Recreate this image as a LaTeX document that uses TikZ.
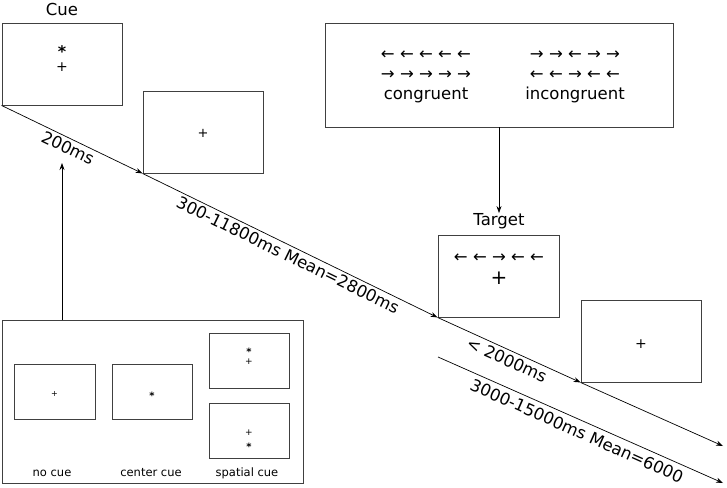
\documentclass[tikz,border=0pt]{standalone}
\usepackage{fontspec}
\setmainfont{DejaVu Sans}
\usetikzlibrary{arrows.meta}

\tikzset{
  screen/.style={draw=black!75, line width=0.9pt, minimum width=120pt, minimum height=82pt, inner sep=0pt},
  minis/.style={draw=black!75, line width=0.9pt, minimum width=80pt, minimum height=55pt, inner sep=0pt},
  timeline/.style={line width=0.7pt, -{Stealth[length=7pt,width=5pt]}},
  lbl/.style={font=\fontsize{16.5}{19}\selectfont, inner sep=0pt},
  tiny/.style={font=\fontsize{11.5}{13}\selectfont, inner sep=0pt},
  fix/.style={font=\fontsize{#1}{#1}\selectfont, inner sep=0pt},
  star/.style={font=\fontsize{#1}{#1}\selectfont\bfseries, inner sep=0pt, yshift=-0.2*#1pt},
}

\begin{document}
\begin{tikzpicture}[x=1pt, y=-1pt]
\useasboundingbox (0,0) rectangle (727,487);

% screens on the time line
\node[screen] (cue) at (62,64) {};
\node[lbl] (cuelbl) at (62,9) {Cue};
\node[star=16] (cuestar) at (62,48) {*};
\node[fix=14] (cueplus) at (62,67) {+};

\node[screen] (isi) at (203,132) {};
\node[fix=13] (isiplus) at (203,133) {+};

\node[screen, minimum width=121pt] (target) at (498.5,276) {};
\node[lbl] (tlbl) at (499,221) {Target};
\node[lbl] (tarrows) at (499,258) {← ← → ← ←};
\node[fix=20] (tplus) at (499,278) {+};

\node[screen] (post) at (641,341) {};
\node[fix=14] (postplus) at (641,344) {+};

% flanker types
\node[screen, minimum width=348pt, minimum height=104pt] (probe) at (499,75) {};
\node[lbl] (cong1) at (426,55) {← ← ← ← ←};
\node[lbl] (cong2) at (426,75) {→ → → → →};
\node[lbl] (congl) at (426,95) {congruent};
\node[lbl] (inc1) at (575,55) {→ → ← → →};
\node[lbl] (inc2) at (575,75) {← ← → ← ←};
\node[lbl] (incl) at (575,95) {incongruent};

% cue types
\node[draw=black!75, line width=0.9pt, minimum width=301pt, minimum height=163pt, inner sep=0pt] (legend) at (152.5,401.5) {};
\node[minis, minimum width=81pt] (nocue) at (54.5,391.5) {};
\node[fix=8] (nocueplus) at (54.5,394) {+};
\node[minis] (ccue) at (152,391.5) {};
\node[star=10] (ccuestar) at (152,394) {*};
\node[minis] (sptop) at (249,360.5) {};
\node[star=10] (sptopstar) at (249,350) {*};
\node[fix=9] (sptopplus) at (249,362) {+};
\node[minis] (spbot) at (249,430.5) {};
\node[fix=9] (spbotplus) at (249,433) {+};
\node[star=10] (spbotstar) at (249,445) {*};
\node[tiny] (nocuel) at (52,473) {no cue};
\node[tiny] (ccuel) at (151,473) {center cue};
\node[tiny] (spl) at (247,473) {spatial cue};

\coordinate (cueup) at (62,163);
\coordinate (end1) at (723,446);
\coordinate (itia) at (438,357);
\coordinate (itib) at (723,483);

% time line
\draw[timeline] (cue.south west) -- (isi.south west);
\draw[timeline] (isi.south west) -- (target.south west);
\draw[timeline] (target.south west) -- (post.south west);
\draw[timeline] (post.south west) -- (end1);
\draw[timeline] (itia) -- (itib);
\draw[timeline] (legend.north -| cueup) -- (cueup);
\draw[timeline] (probe.south) -- (tlbl.north);

\node[lbl, rotate=-25.7] (t1) at (68,148) {200ms};
\node[lbl, rotate=-26] (t2) at (288,255) {300-11800ms Mean=2800ms};
\node[lbl, rotate=-24.4] (t3) at (507,360) {< 2000ms};
\node[lbl, rotate=-24] (t4) at (577,431) {3000-15000ms Mean=6000};

\end{tikzpicture}
\end{document}
